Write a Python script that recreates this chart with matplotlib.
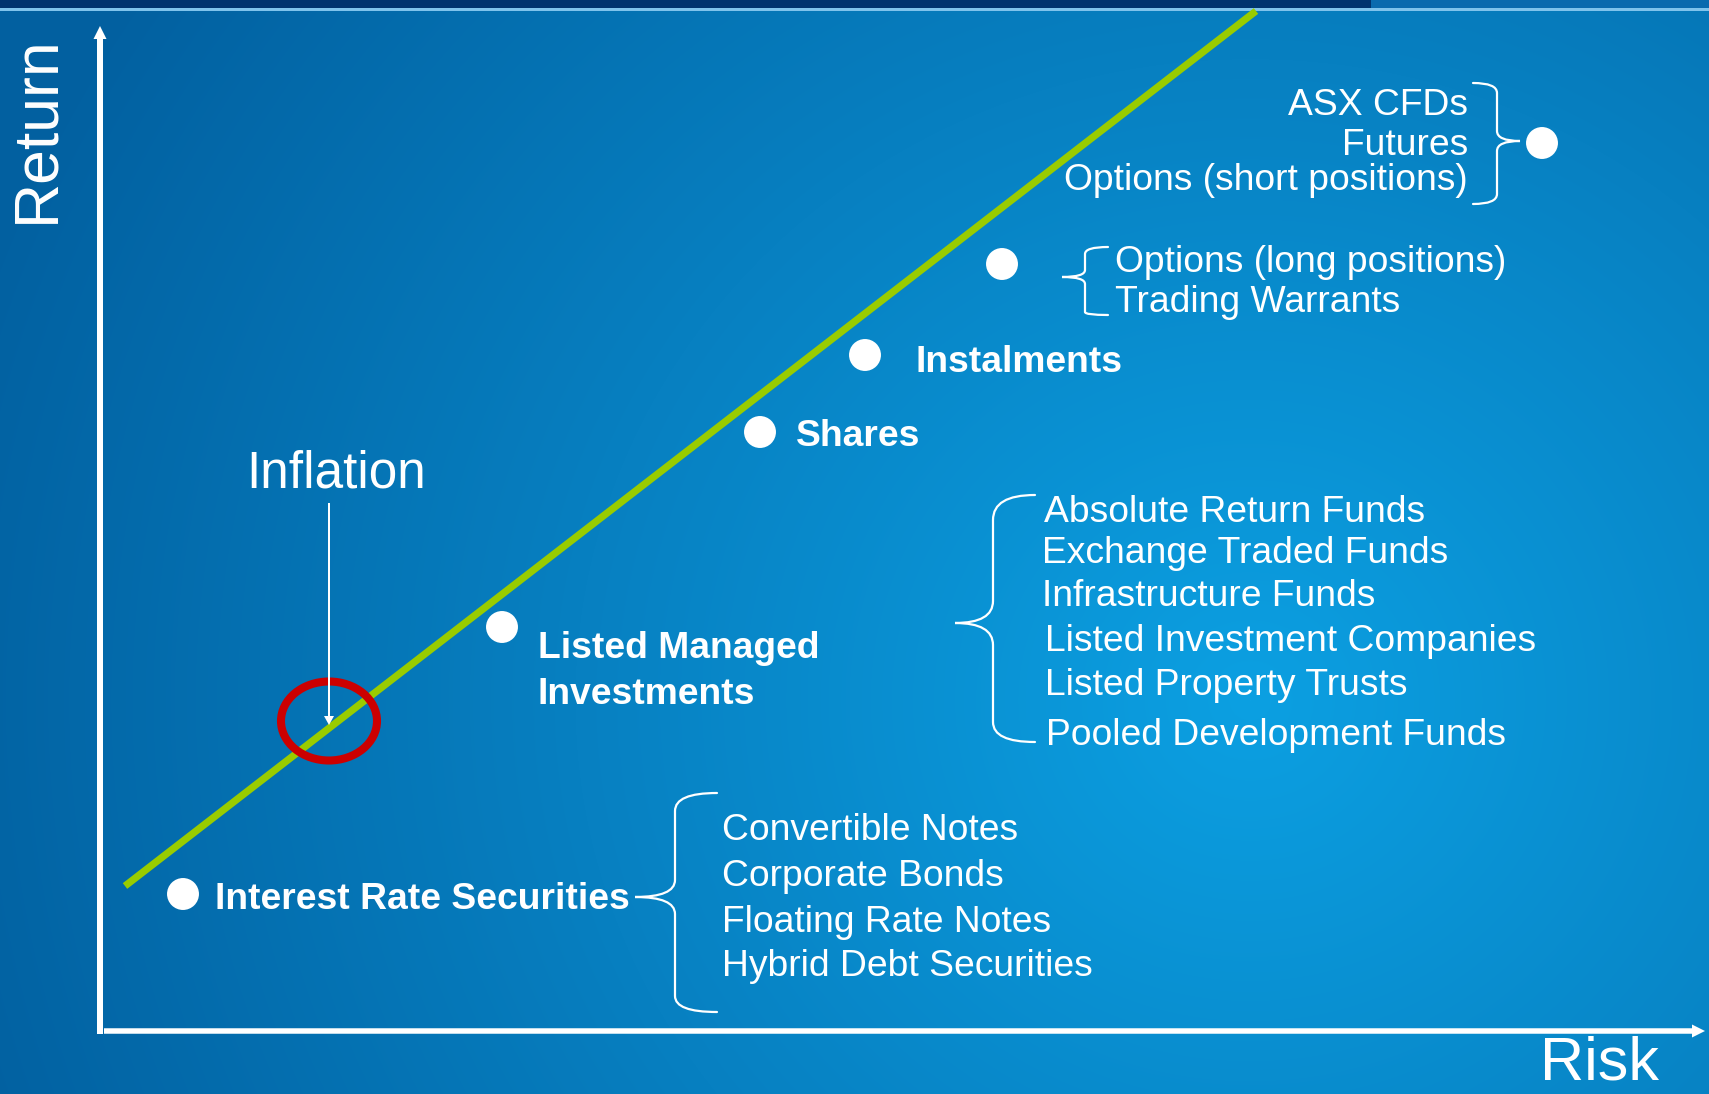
import numpy as np
import matplotlib
matplotlib.use("Agg")
import matplotlib.pyplot as plt
from matplotlib.path import Path
from matplotlib.patches import PathPatch, Ellipse, Rectangle

# ---------------- data ----------------
categories = ["Interest Rate Securities", "Listed Managed\nInvestments", "Shares",
              "Instalments", "Options (long positions)\nTrading Warrants",
              "ASX CFDs\nFutures\nOptions (short positions)"]
risk = [83, 402, 660, 765, 902, 1442]
ret = [137, 404, 599, 676, 767, 888]

line_risk = [25, 1156]
line_return = [145, 1020]

inflation_risk = 229
inflation_return = 310

bonds_items = ["Convertible Notes", "Corporate Bonds", "Floating Rate Notes", "Hybrid Debt Securities"]
funds_items = ["Absolute Return Funds", "Exchange Traded Funds", "Infrastructure Funds",
               "Listed Investment Companies", "Listed Property Trusts", "Pooled Development Funds"]
options_items = ["Options (long positions)", "Trading Warrants"]
asx_items = ["ASX CFDs", "Futures", "Options (short positions)"]

# ---------------- figure ----------------
W, H = 1709, 1094
OX, OY = 100, 1031  # pixel position of the origin

fig = plt.figure(figsize=(W / 100, H / 100), dpi=100)
ax = fig.add_axes([0, 0, 1, 1])
ax.set_xlim(-OX, W - OX)
ax.set_ylim(OY - H, OY)
ax.axis("off")


def P(px, py):
    return px - OX, OY - py


# background radial gradient
yy, xx = np.mgrid[0:H, 0:W]
d = np.sqrt(((xx - 1250) / 1.0) ** 2 + ((yy - 700) / 0.95) ** 2)
t = np.clip(d / 1350.0, 0, 1)[..., None]
c0 = np.array([12, 160, 226]) / 255.0
c1 = np.array([2, 96, 160]) / 255.0
img = c0 * (1 - t) + c1 * t
ax.imshow(img, extent=(-OX, W - OX, OY - H, OY), origin="upper", zorder=0, aspect="auto")

# top band
ax.add_patch(Rectangle(P(0, 8), 1371, 8, color="#00336f", zorder=1, lw=0))
ax.add_patch(Rectangle(P(1371, 8), W - 1371, 8, color="#0a6aae", zorder=1, lw=0))
ax.add_patch(Rectangle(P(0, 11), W, 3.5, color="#7fc3ec", zorder=1, lw=0))

# axes arrows
x0, y0 = P(100, 1034)
ax.arrow(x0, y0, 0, 1034 - 26, width=6, head_width=13, head_length=13,
         length_includes_head=True, fc="white", ec="none", zorder=3)
x0, y0 = P(104, 1031)
ax.arrow(x0, y0, 1705 - 104, 0, width=5.5, head_width=13, head_length=13,
         length_includes_head=True, fc="white", ec="none", zorder=3)

# risk/return line
ax.plot(line_risk, line_return, color="#99cc00", lw=5.2, solid_capstyle="butt", zorder=4)

# inflation
ax.add_patch(Ellipse((inflation_risk, inflation_return), 96, 79, fill=False,
                     ec="#cc0000", lw=5.8, zorder=5))
ax.arrow(inflation_risk, 528, 0, inflation_return - 4 - 528, width=2, head_width=10,
         head_length=9, length_includes_head=True, fc="white", ec="none", zorder=6)
ax.text(*P(336, 488), "Inflation", color="white", fontsize=37, family="Liberation Sans",
        ha="center", va="baseline", zorder=6)

# dots
ax.scatter(risk, ret, s=23 ** 2, color="white", edgecolors="none", zorder=6)

# axis titles
ax.text(*P(53, 129), "Return", color="white", fontsize=45, family="Liberation Sans",
        rotation=90, rotation_mode="anchor", ha="center", va="baseline", zorder=6)
ax.text(*P(1540, 1080), "Risk", color="white", fontsize=44, family="Liberation Sans",
        ha="left", va="baseline", zorder=6)

FS = 26.8
bold = dict(color="white", fontsize=FS, family="Liberation Sans", fontweight="bold",
            ha="left", va="baseline", zorder=6)
reg = dict(color="white", fontsize=FS, family="Liberation Sans",
           va="baseline", zorder=6)

# bold labels
ax.text(*P(215, 909), categories[0], **bold)
for line, by in zip(categories[1].split("\n"), [658, 704]):
    ax.text(*P(538, by), line, **bold)
ax.text(*P(796, 446), categories[2], **bold)
ax.text(*P(916, 372), categories[3], **bold)

# lists
for s, by in zip(bonds_items, [840, 886, 932, 976]):
    ax.text(*P(722, by), s, ha="left", **reg)
for s, by, lx in zip(funds_items, [522, 563, 606, 651, 695, 745],
                     [1044, 1042, 1042, 1045, 1045, 1046]):
    ax.text(*P(lx, by), s, ha="left", **reg)
for s, by in zip(options_items, [272, 312]):
    ax.text(*P(1115, by), s, ha="left", **reg)
for s, by in zip(asx_items, [115, 155, 190]):
    ax.text(*P(1468, by), s, ha="right", **reg)


def brace(xe, yt, xv, xt, ym, yb, r1, r2, r3):
    pts = [(xe, yt), (xv, yt), (xv, yt + r1), (xv, ym - r2), (xv, ym), (xt, ym),
           (xv, ym), (xv, ym + r2), (xv, yb - r3), (xv, yb), (xe, yb)]
    codes = [Path.MOVETO, Path.CURVE3, Path.CURVE3, Path.LINETO, Path.CURVE3, Path.CURVE3,
             Path.CURVE3, Path.CURVE3, Path.LINETO, Path.CURVE3, Path.CURVE3]
    verts = [P(px, py) for px, py in pts]
    ax.add_patch(PathPatch(Path(verts, codes), fill=False, ec="white", lw=1.6, zorder=6,
                           capstyle="round"))


brace(717, 793, 675, 635, 897, 1012, 18, 17, 16)
brace(1035, 495, 993, 955, 623, 742, 25, 22, 20)
brace(1108, 247, 1085, 1062, 277, 315, 7, 7, 3)
brace(1473, 83, 1497, 1520, 141, 204, 10, 10, 10)

fig.savefig("out.png", dpi=100)
